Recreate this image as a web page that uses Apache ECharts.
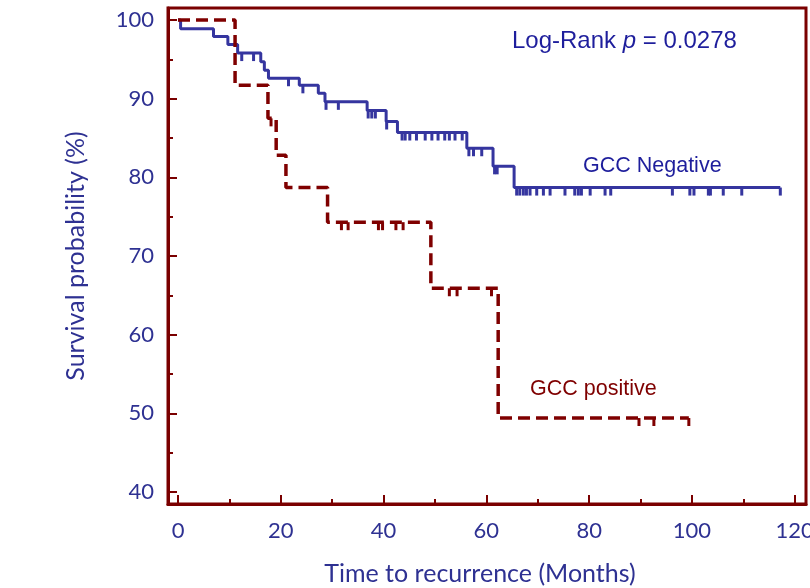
<!DOCTYPE html>
<html>
<head>
<meta charset="utf-8">
<script src="https://cdn.jsdelivr.net/npm/echarts@6/dist/echarts.min.js"></script>
<style>html,body{margin:0;padding:0;background:#fff;}#c{width:810px;height:588px;}</style>
</head>
<body>
<div id="c"></div>
<script>
// GCC Negative: event times (months) and survival (%) after each step
const negTime = [0, 0.5, 6.9, 9.7, 11.6, 16.1, 16.8, 17.6, 23.6, 27.3, 28.6, 36.8, 40.5, 42.7, 56.2, 61.3, 65.4, 117.2];
const negSurv = [100, 98.9, 97.9, 96.9, 95.8, 94.7, 93.6, 92.6, 91.7, 90.7, 89.6, 88.5, 87.1, 85.7, 83.7, 81.4, 78.7, 78.7];
const negCensor = [12.4, 14.7, 21.5, 24.3, 28.8, 31.2, 37.0, 37.7, 38.4, 40.6, 43.6, 44.2, 45.1, 46.4, 48.1, 49.4, 50.6, 51.9, 52.8, 53.9, 55.3,
  56.6, 57.5, 59.1, 61.6, 62.1, 65.9, 66.5, 67.2, 67.8, 68.5, 69.8, 71.1, 72.4, 75.3, 77.2, 77.9, 78.5, 80.2, 83.1, 84.2,
  96.2, 99.6, 100.4, 103.2, 103.6, 106.1, 109.7, 117.2];

// GCC positive
const posTime = [0, 11.1, 17.5, 19.1, 21.0, 29.1, 49.2, 62.3, 99.4];
const posSurv = [100, 91.7, 87.5, 82.8, 78.7, 74.3, 65.9, 49.4, 49.4];
const posCensor = [18.1, 31.8, 33.1, 39.0, 39.8, 42.4, 43.8, 52.8, 54.3, 61.0, 89.7, 92.6, 99.4];

const xMajor = [0, 20, 40, 60, 80, 100, 120];
const xMinor = [10, 30, 50, 70, 90, 110];
const yMajor = [40, 50, 60, 70, 80, 90, 100];
const yMinor = [45, 55, 65, 75, 85, 95];

const BLUE = '#35359f';
const RED = '#7f0000';
const FRAME = '#7a0000';
const AXTXT = '#2e3192';

function survAt(times, surv, t) {
  let v = surv[0];
  for (let i = 0; i < times.length; i++) { if (times[i] <= t) v = surv[i]; }
  return v;
}
const zip = (a, b) => a.map((v, i) => [v, b[i]]);

const X_MIN = -1.95, X_MAX = 122.2, Y_MIN = 38.47, Y_MAX = 101.53;

const chart = echarts.init(document.getElementById('c'), null, {renderer: 'canvas'});
const lblFont = {color: AXTXT, fontFamily: 'Lato', fontSize: 22};

chart.setOption({
  animation: false,
  backgroundColor: '#fff',
  grid: {left: 168, right: 4, top: 8, bottom: 84, show: true, borderColor: FRAME, borderWidth: 3,
         containLabel: false, outerBoundsMode: 'none'},
  xAxis: [
    {type: 'value', min: X_MIN, max: X_MAX, position: 'bottom',
     axisLine: {show: true, onZero: false, lineStyle: {color: FRAME, width: 3}},
     axisTick: {show: true, inside: true, length: 9, customValues: xMajor, lineStyle: {color: FRAME, width: 2}},
     axisLabel: Object.assign({show: true, customValues: xMajor, margin: 16, hideOverlap: false}, lblFont),
     splitLine: {show: false},
     name: 'Time to recurrence (Months)', nameLocation: 'middle', nameGap: 57,
     nameTextStyle: {color: AXTXT, fontFamily: 'Lato', fontSize: 25, padding: [0, 14, 0, 0]}},
    {type: 'value', min: X_MIN, max: X_MAX, position: 'bottom',
     axisLine: {show: false, onZero: false},
     axisTick: {show: true, inside: true, length: 5, customValues: xMinor, lineStyle: {color: FRAME, width: 2}},
     axisLabel: {show: false}, splitLine: {show: false}}
  ],
  yAxis: [
    {type: 'value', min: Y_MIN, max: Y_MAX, position: 'left',
     axisLine: {show: true, onZero: false, lineStyle: {color: FRAME, width: 3}},
     axisTick: {show: true, inside: true, length: 9, customValues: yMajor, lineStyle: {color: FRAME, width: 2}},
     axisLabel: Object.assign({show: true, customValues: yMajor, margin: 14}, lblFont),
     splitLine: {show: false},
     name: 'Survival probability (%)', nameLocation: 'middle', nameRotate: 90, nameGap: 80,
     nameTextStyle: {color: AXTXT, fontFamily: 'Lato', fontSize: 25}},
    {type: 'value', min: Y_MIN, max: Y_MAX, position: 'left',
     axisLine: {show: false, onZero: false},
     axisTick: {show: true, inside: true, length: 5, customValues: yMinor, lineStyle: {color: FRAME, width: 2}},
     axisLabel: {show: false}, splitLine: {show: false}}
  ],
  series: [
    {type: 'line', step: 'end', data: zip(negTime, negSurv), symbol: 'none',
     lineStyle: {color: BLUE, width: 3}, z: 3},
    {type: 'scatter', data: negCensor.map(t => [t, survAt(negTime, negSurv, t)]),
     symbol: 'rect', symbolSize: [3, 8], symbolOffset: [0, 4],
     itemStyle: {color: BLUE, opacity: 1}, z: 3},
    {type: 'line', step: 'end', data: zip(posTime, posSurv), symbol: 'none',
     lineStyle: {color: RED, width: 3.5, type: [12, 6]}, z: 4},
    {type: 'scatter', data: posCensor.map(t => [t, survAt(posTime, posSurv, t)]),
     symbol: 'rect', symbolSize: [3, 8], symbolOffset: [0, 4],
     itemStyle: {color: RED, opacity: 1}, z: 4}
  ],
  graphic: [
    {type: 'text', left: 512, top: 29, z: 10,
     style: {text: '{a|Log-Rank }{b|p}{a| = 0.0278}',
       rich: {a: {fontFamily: 'Liberation Sans', fontSize: 24, fill: '#1e1e9c'},
              b: {fontFamily: 'Liberation Sans', fontSize: 24, fontStyle: 'italic', fill: '#1e1e9c'}}}},
    {type: 'text', left: 583, top: 155, z: 10,
     style: {text: 'GCC Negative', fontFamily: 'Liberation Sans', fontSize: 21.5, fill: '#1e1e9c'}},
    {type: 'text', left: 530, top: 378, z: 10,
     style: {text: 'GCC positive', fontFamily: 'Liberation Sans', fontSize: 21.5, fill: '#7f0000'}}
  ]
});
</script>
</body>
</html>
